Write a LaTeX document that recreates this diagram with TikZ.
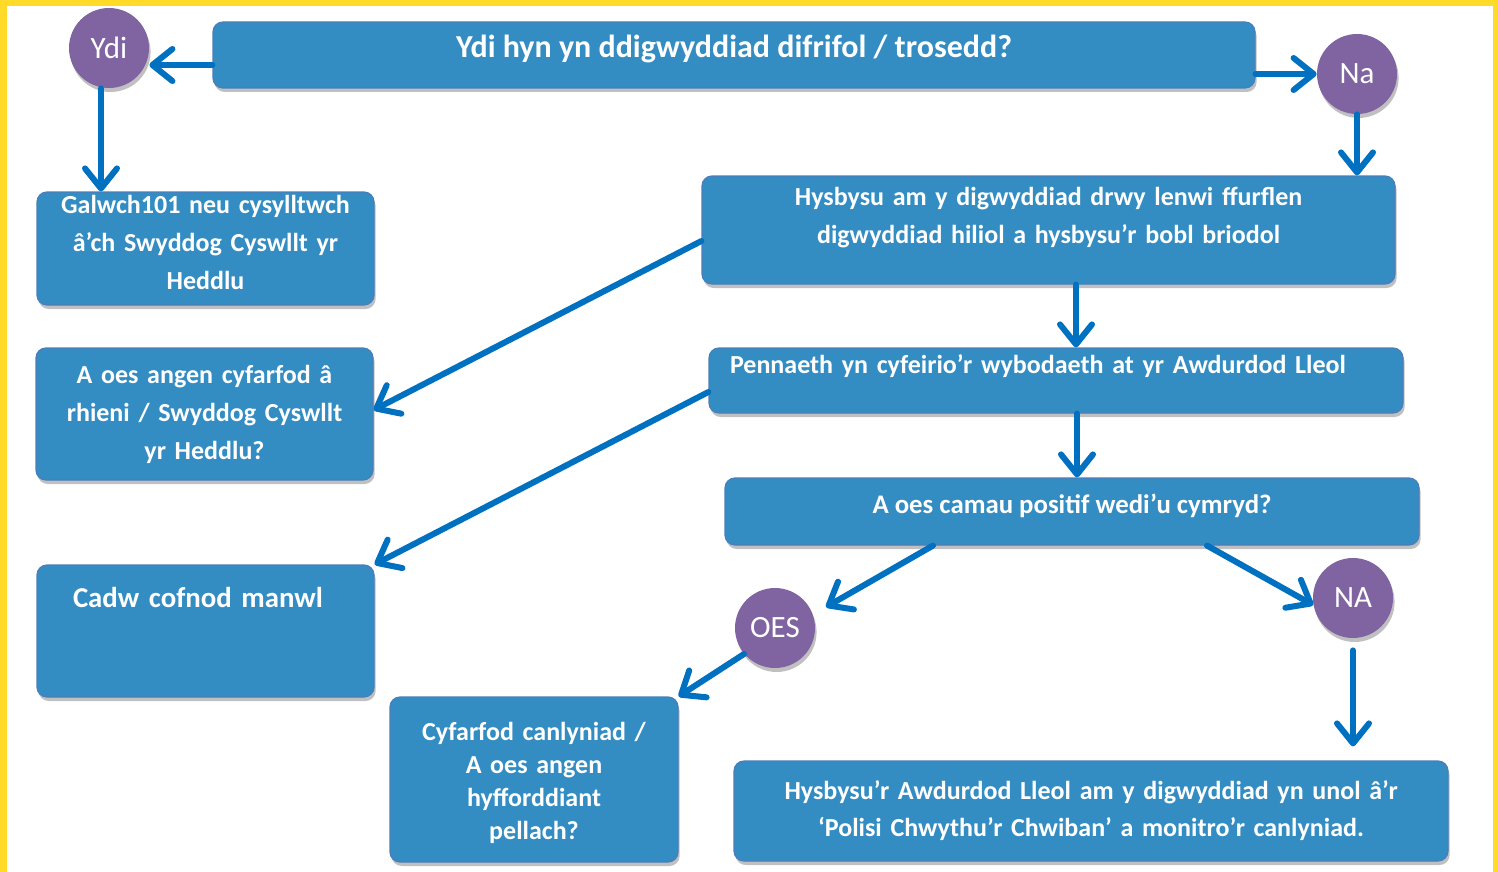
\documentclass[tikz,border=0pt]{standalone}
\usepackage{fontspec}
\setmainfont{Carlito}
\usetikzlibrary{arrows.meta,shadows}

\definecolor{bocsglas}{RGB}{52,141,194}
\definecolor{ymylglas}{RGB}{74,126,187}
\definecolor{saethglas}{RGB}{0,112,192}
\definecolor{porffor}{RGB}{128,100,162}
\definecolor{melyn}{RGB}{255,218,41}

\begin{document}
\begin{tikzpicture}[x=0.5pt, y=-0.5pt, > = {Straight Barb[length=10pt, width=16pt, round]}]
        \tikzstyle{bocs}=[rectangle, rounded corners=5pt, fill=bocsglas, draw=ymylglas, line width=0.6pt, text=white, font=\bfseries\fontsize{13}{19}\selectfont, align=center, inner sep=0pt, drop shadow={shadow xshift=0.8pt, shadow yshift=-2pt, fill=black!35, opacity=0.7}]
        \tikzstyle{cylch}=[circle, fill=porffor, text=white, font=\fontsize{15.5}{17}\selectfont, minimum size=40pt, inner sep=0pt, drop shadow={shadow xshift=0.8pt, shadow yshift=-2pt, fill=black!35, opacity=0.7}]
        \tikzstyle{saeth}=[->, draw=saethglas, line width=3pt, line cap=round]

                    % Ffrâm
                    \fill[melyn] (0,0) rectangle (1498,872);
                    \fill[white] (7,6) rectangle (1493,872);
                    \useasboundingbox (0,0) rectangle (1498,872);

                    % Blychau
                    \node[bocs, minimum width=521pt, minimum height=33pt, font=\bfseries\fontsize{16}{19}\selectfont, text height=11.5pt, text depth=8.5pt] (cwestiwn) at (734,55) {Ydi hyn yn ddigwyddiad difrifol / trosedd?};
                    \node[bocs, minimum width=168.5pt, minimum height=56.5pt, text width=160pt, text depth=44pt] (galw) at (205.5,248.5) {Galwch101 neu cysylltwch\\ â’ch Swyddog Cyswllt yr\\ Heddlu};
                    \node[bocs, minimum width=346.5pt, minimum height=54pt, text width=330pt, text height=9pt, text depth=34pt] (hysbysu) at (1048.5,230) {Hysbysu am y digwyddiad drwy lenwi ffurflen\\ digwyddiad hiliol a hysbysu’r bobl briodol};
                    \node[bocs, minimum width=347pt, minimum height=32.5pt, text width=326pt, align=left, font=\bfseries\fontsize{13}{15}\selectfont, text height=9pt, text depth=16.5pt] (pennaeth) at (1056,380.5) {Pennaeth yn cyfeirio’r wybodaeth at yr Awdurdod Lleol};
                    \node[bocs, minimum width=347pt, minimum height=33.5pt, font=\bfseries\fontsize{13.4}{16}\selectfont, text height=9pt, text depth=7pt] (camau) at (1072,511.5) {A oes camau positif wedi’u cymryd?};
                    \node[bocs, minimum width=168.5pt, minimum height=66pt, text width=160pt] (cyfarfod) at (204.5,414) {A oes angen cyfarfod â\\ rhieni / Swyddog Cyswllt\\ yr Heddlu?};
                    \node[bocs, minimum width=168.5pt, minimum height=66pt, text width=132.5pt, align=left, font=\bfseries\fontsize{14.4}{18}\selectfont, text height=11pt, text depth=35pt] (cofnod) at (205.5,631) {Cadw cofnod manwl};
                    \node[bocs, minimum width=144pt, minimum height=82.5pt, text width=136pt, font=\bfseries\fontsize{13}{16.5}\selectfont, text depth=48pt] (canlyniad) at (534,779.5) {Cyfarfod canlyniad /\\ A oes angen\\ hyfforddiant\\ pellach?};
                    \node[bocs, minimum width=357pt, minimum height=50pt, text width=345pt, font=\bfseries\fontsize{13}{18.5}\selectfont] (awdurdod) at (1091,811) {Hysbysu’r Awdurdod Lleol am y digwyddiad yn unol â’r\\ ‘Polisi Chwythu’r Chwiban’ a monitro’r canlyniad.};

                    % Cylchoedd
                    \node[cylch] (ydi) at (109,48) {Ydi};
                    \node[cylch] (na) at (1357,74) {Na};
                    \node[cylch] (oes) at (775,628) {OES};
                    \node[cylch] (na2) at (1353,598) {NA};

                    % Saethau
                    \draw[saeth] (cwestiwn.west |- 0,65) -- (ydi.east |- 0,65);
                    \draw[saeth] (101,0 |- ydi.south) -- (101,0 |- galw.north);
                    \draw[saeth] (cwestiwn.east |- na.west) -- (na.west);
                    \draw[saeth] (na.south) -- (na.south |- hysbysu.north);
                    \draw[saeth] (1076,0 |- hysbysu.south) -- (1076,0 |- pennaeth.north);
                    \draw[saeth] (1077,0 |- pennaeth.south) -- (1077,0 |- camau.north);
                    \draw[saeth] (hysbysu.west |- 0,241) -- (cyfarfod.east |- 0,410);
                    \draw[saeth] (pennaeth.west |- 0,392) -- (cofnod.north east);
                    \draw[saeth] (933,0 |- camau.south) -- ([shift={(51,-21)}]oes.center);
                    \draw[saeth] (oes.220) -- (canlyniad.north east);
                    \draw[saeth] (1207,0 |- camau.south) -- (na2.190);
                    \draw[saeth, shorten <=6pt, shorten >=7pt] (na2.south) -- (na2.south |- awdurdod.north);
            \end{tikzpicture}
\end{document}
